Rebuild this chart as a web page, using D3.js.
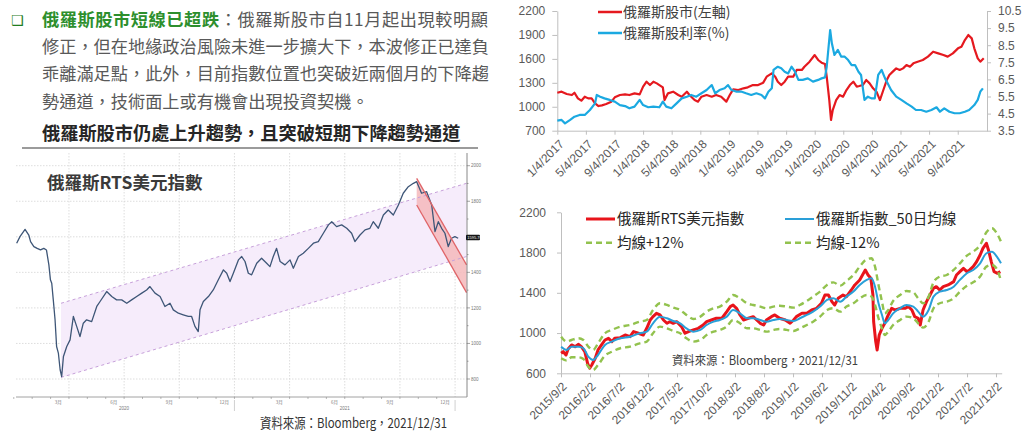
<!DOCTYPE html>
<html>
<head>
  <meta charset="utf-8">
  <script src="https://cdn.jsdelivr.net/npm/d3@7"></script>
  <style>
    body { margin: 0; background: #fff; }
    svg { display: block; }
  </style>
</head>
<body>
<svg id="chart" width="1024" height="439"></svg>
<script>
  "use strict";

  /* ---------- text ---------- */
  var introHead = "俄羅斯股市短線已超跌";
  var introLines = [
    "：俄羅斯股市自11月起出現較明顯",
    "修正，但在地緣政治風險未進一步擴大下，本波修正已達負",
    "乖離滿足點，此外，目前指數位置也突破近兩個月的下降趨",
    "勢通道，技術面上或有機會出現投資契機。"
  ];
  var subTitle = "俄羅斯股市仍處上升趨勢，且突破短期下降趨勢通道";
  var sourceText = "資料來源：Bloomberg，2021/12/31";

  /* ---------- left: Bloomberg RTS chart (x = decimal year) ---------- */
  var rtsYears = [2020.013, 2020.028, 2020.051, 2020.068, 2020.076, 2020.091, 2020.106, 2020.121, 2020.136, 2020.148,
    2020.159, 2020.166, 2020.172, 2020.179, 2020.187, 2020.194, 2020.202, 2020.210, 2020.217, 2020.225,
    2020.240, 2020.255, 2020.270, 2020.285, 2020.300, 2020.315, 2020.330, 2020.353, 2020.376, 2020.391,
    2020.421, 2020.444, 2020.466, 2020.489, 2020.512, 2020.534, 2020.557, 2020.580, 2020.602, 2020.617,
    2020.640, 2020.663, 2020.685, 2020.708, 2020.723, 2020.746, 2020.768, 2020.791, 2020.806, 2020.821,
    2020.836, 2020.844, 2020.859, 2020.882, 2020.904, 2020.927, 2020.950, 2020.965, 2020.980, 2020.995,
    2021.018, 2021.033, 2021.048, 2021.063, 2021.078, 2021.101, 2021.123, 2021.146, 2021.161, 2021.176,
    2021.191, 2021.207, 2021.229, 2021.252, 2021.267, 2021.290, 2021.312, 2021.335, 2021.358, 2021.380,
    2021.403, 2021.426, 2021.441, 2021.463, 2021.486, 2021.509, 2021.531, 2021.546, 2021.569, 2021.592,
    2021.614, 2021.629, 2021.652, 2021.675, 2021.697, 2021.720, 2021.743, 2021.765, 2021.788, 2021.811,
    2021.826, 2021.848, 2021.871, 2021.894, 2021.909, 2021.924, 2021.939, 2021.954, 2021.969, 2021.984,
    2021.999, 2022.014];
  var rtsValues = [1564, 1601, 1642, 1610, 1573, 1545, 1535, 1526, 1535, 1526,
    1442, 1358, 1339, 1245, 1133, 983, 946, 852, 814, 927,
    983, 1020, 1152, 1096, 1039, 1114, 1133, 1123, 1208, 1236,
    1292, 1264, 1245, 1245, 1226, 1245, 1264, 1283, 1301, 1320,
    1283, 1264, 1208, 1226, 1189, 1170, 1161, 1152, 1152, 1096,
    1067, 1189, 1236, 1264, 1301, 1358, 1414, 1395, 1348, 1395,
    1470, 1489, 1461, 1395, 1386, 1451, 1479, 1451, 1432, 1489,
    1535, 1461, 1442, 1470, 1423, 1489, 1507, 1535, 1564, 1573,
    1620, 1667, 1685, 1657, 1667, 1648, 1620, 1573, 1610, 1639,
    1648, 1685, 1648, 1723, 1751, 1723, 1779, 1845, 1882, 1901,
    1910, 1845, 1854, 1779, 1629, 1685, 1648, 1620, 1545, 1592,
    1601, 1592];
  var lastPrice = "1595.76";
  var lastPriceLevel = 1596;

  // rising channel and short falling channel
  var trendX = [2020.214, 2022.052];
  var trendUpper = [1226, 1901];
  var trendLower = [809, 1489];
  var downX = [2021.826, 2022.052];
  var downUpper = [1929, 1442];
  var downLower = [1779, 1286];

  var leftYTicks = [800, 1000, 1200, 1400, 1600, 1800, 2000];
  var leftQuarterLines = [2020.25, 2020.5, 2020.75, 2021.0, 2021.25, 2021.5, 2021.75, 2022.0];
  var leftMonthVals = [2020.202, 2020.453, 2020.705, 2020.954, 2021.203, 2021.453, 2021.705, 2021.954];
  var leftMonthLabels = ["3月", "6月", "9月", "12月", "3月", "6月", "9月", "12月"];
  var leftYearVals = [2020.5, 2021.5];
  var leftYearLabels = ["2020", "2021"];
  var leftYearBreaks = [2021.0, 2022.0];

  /* ---------- top right: index vs dividend yield ---------- */
  var idxYears = [2017.01, 2017.06, 2017.12, 2017.18, 2017.21, 2017.25, 2017.29, 2017.33, 2017.37, 2017.41,
    2017.45, 2017.49, 2017.53, 2017.58, 2017.64, 2017.68, 2017.74, 2017.80, 2017.85, 2017.91,
    2017.97, 2018.01, 2018.05, 2018.09, 2018.13, 2018.17, 2018.20, 2018.24, 2018.26, 2018.30,
    2018.36, 2018.42, 2018.46, 2018.52, 2018.55, 2018.61, 2018.65, 2018.69, 2018.75, 2018.81,
    2018.86, 2018.92, 2018.98, 2019.02, 2019.06, 2019.12, 2019.18, 2019.23, 2019.29, 2019.35,
    2019.41, 2019.45, 2019.51, 2019.55, 2019.58, 2019.62, 2019.66, 2019.70, 2019.76, 2019.80,
    2019.86, 2019.89, 2019.95, 2020.01, 2020.05, 2020.09, 2020.13, 2020.15, 2020.18, 2020.20,
    2020.22, 2020.26, 2020.30, 2020.34, 2020.38, 2020.42, 2020.46, 2020.50, 2020.53, 2020.57,
    2020.61, 2020.65, 2020.69, 2020.73, 2020.77, 2020.81, 2020.85, 2020.88, 2020.92, 2020.96,
    2021.00, 2021.04, 2021.08, 2021.12, 2021.16, 2021.21, 2021.27, 2021.33, 2021.39, 2021.45,
    2021.51, 2021.56, 2021.62, 2021.68, 2021.72, 2021.76, 2021.80, 2021.84, 2021.87, 2021.91,
    2021.94, 2021.98];
  var idxValues = [1176, 1189, 1160, 1147, 1176, 1105, 1076, 1126, 1105, 1105,
    1043, 1009, 1018, 1034, 1064, 1118, 1147, 1155, 1147, 1168,
    1155, 1252, 1314, 1272, 1314, 1293, 1272, 1243, 1084, 1168,
    1189, 1147, 1126, 1189, 1147, 1084, 1064, 1126, 1147, 1126,
    1147, 1126, 1064, 1147, 1218, 1210, 1231, 1243, 1272, 1272,
    1302, 1377, 1419, 1377, 1314, 1272, 1314, 1377, 1377, 1461,
    1461, 1502, 1565, 1648, 1586, 1552, 1536, 1377, 1084, 834,
    959, 1084, 1147, 1126, 1210, 1272, 1314, 1252, 1260, 1272,
    1335, 1293, 1231, 1189, 1084, 1210, 1335, 1398, 1440, 1481,
    1461, 1481, 1523, 1502, 1544, 1565, 1586, 1628, 1690, 1669,
    1648, 1628, 1669, 1732, 1753, 1836, 1899, 1857, 1732, 1607,
    1565, 1607];
  var yieldYears = [2017.01, 2017.06, 2017.10, 2017.16, 2017.21, 2017.27, 2017.33, 2017.39, 2017.45, 2017.47,
    2017.51, 2017.56, 2017.62, 2017.68, 2017.74, 2017.80, 2017.85, 2017.91, 2017.97, 2018.01,
    2018.07, 2018.13, 2018.20, 2018.24, 2018.28, 2018.34, 2018.40, 2018.46, 2018.52, 2018.57,
    2018.63, 2018.69, 2018.75, 2018.81, 2018.85, 2018.90, 2018.96, 2019.00, 2019.04, 2019.10,
    2019.16, 2019.21, 2019.27, 2019.33, 2019.39, 2019.43, 2019.47, 2019.51, 2019.53, 2019.58,
    2019.62, 2019.66, 2019.70, 2019.74, 2019.78, 2019.82, 2019.87, 2019.93, 2019.99, 2020.05,
    2020.09, 2020.13, 2020.15, 2020.19, 2020.21, 2020.24, 2020.28, 2020.32, 2020.36, 2020.40,
    2020.44, 2020.48, 2020.52, 2020.55, 2020.59, 2020.63, 2020.67, 2020.71, 2020.75, 2020.79,
    2020.83, 2020.86, 2020.90, 2020.96, 2021.02, 2021.08, 2021.14, 2021.19, 2021.25, 2021.31,
    2021.37, 2021.43, 2021.47, 2021.52, 2021.58, 2021.64, 2021.70, 2021.76, 2021.81, 2021.87,
    2021.91, 2021.94, 2021.97];
  var yieldValues = [4.09, 4.13, 3.93, 4.13, 4.32, 4.42, 4.42, 4.71, 5.10, 5.59,
    5.49, 5.39, 5.30, 5.20, 5.00, 4.94, 4.81, 4.91, 5.30, 5.00,
    4.87, 4.91, 4.87, 5.20, 4.91, 4.81, 5.10, 5.39, 5.49, 5.59,
    5.49, 5.69, 5.88, 6.17, 5.69, 5.88, 5.98, 6.17, 5.88, 5.78,
    5.78, 5.69, 5.59, 5.69, 5.59, 5.39, 5.78, 5.98, 7.05, 7.24,
    7.15, 6.95, 6.85, 7.24, 6.95, 6.47, 6.47, 6.56, 6.37, 6.47,
    6.56, 6.62, 7.24, 9.39, 8.61, 7.93, 8.22, 7.83, 7.83, 7.63,
    7.34, 7.34, 6.95, 6.76, 5.30, 5.49, 5.39, 5.39, 6.76, 7.05,
    6.56, 6.27, 5.88, 5.49, 5.30, 5.10, 4.91, 4.71, 4.71, 4.61,
    4.71, 4.87, 4.61, 4.81, 4.61, 4.52, 4.52, 4.61, 4.71, 5.00,
    5.30, 5.78, 5.98];
  var trTickVals = [2017.01, 2017.343, 2017.677, 2018.01, 2018.343, 2018.677, 2019.01, 2019.343,
    2019.677, 2020.01, 2020.343, 2020.677, 2021.01, 2021.343, 2021.677];
  var trTickLabels = ["1/4/2017", "5/4/2017", "9/4/2017", "1/4/2018", "5/4/2018", "9/4/2018", "1/4/2019",
    "5/4/2019", "9/4/2019", "1/4/2020", "5/4/2020", "9/4/2020", "1/4/2021", "5/4/2021", "9/4/2021"];
  var trLeftTicks = [700, 1000, 1300, 1600, 1900, 2200];
  var trRightTicks = [3.5, 4.5, 5.5, 6.5, 7.5, 8.5, 9.5, 10.5];
  var trLegend = ["俄羅斯股市(左軸)", "俄羅斯股利率(%)"];

  /* ---------- bottom right: RTS vs 50-day average band ---------- */
  var rtsUsdYears = [2015.67, 2015.70, 2015.74, 2015.77, 2015.82, 2015.87, 2015.92, 2015.96, 2016.01, 2016.05,
    2016.08, 2016.11, 2016.16, 2016.20, 2016.25, 2016.30, 2016.35, 2016.40, 2016.44, 2016.52,
    2016.59, 2016.66, 2016.71, 2016.78, 2016.85, 2016.90, 2016.95, 2016.99, 2017.04, 2017.09,
    2017.14, 2017.19, 2017.23, 2017.28, 2017.33, 2017.40, 2017.45, 2017.50, 2017.57, 2017.64,
    2017.71, 2017.76, 2017.83, 2017.90, 2017.98, 2018.05, 2018.10, 2018.14, 2018.19, 2018.24,
    2018.29, 2018.36, 2018.43, 2018.48, 2018.53, 2018.58, 2018.62, 2018.69, 2018.74, 2018.81,
    2018.89, 2018.96, 2019.01, 2019.05, 2019.13, 2019.20, 2019.27, 2019.34, 2019.41, 2019.46,
    2019.51, 2019.56, 2019.60, 2019.65, 2019.72, 2019.77, 2019.84, 2019.89, 2019.96, 2020.04,
    2020.08, 2020.12, 2020.15, 2020.16, 2020.19, 2020.21, 2020.24, 2020.28, 2020.32, 2020.37,
    2020.42, 2020.47, 2020.54, 2020.61, 2020.66, 2020.71, 2020.75, 2020.80, 2020.83, 2020.87,
    2020.92, 2020.97, 2021.02, 2021.06, 2021.11, 2021.16, 2021.23, 2021.31, 2021.35, 2021.40,
    2021.45, 2021.50, 2021.54, 2021.59, 2021.64, 2021.69, 2021.73, 2021.78, 2021.81, 2021.85,
    2021.89, 2021.94, 2021.98];
  var rtsUsdValues = [799, 815, 782, 842, 882, 865, 888, 865, 815, 699,
    650, 683, 749, 832, 882, 931, 948, 915, 948, 954,
    981, 964, 1014, 998, 981, 1047, 1130, 1163, 1196, 1180,
    1130, 1097, 1113, 1097, 1113, 1064, 998, 1014, 1031, 1047,
    1080, 1113, 1130, 1147, 1147, 1213, 1263, 1279, 1246, 1180,
    1130, 1147, 1163, 1130, 1097, 1080, 1130, 1163, 1180, 1147,
    1130, 1097, 1130, 1163, 1196, 1196, 1229, 1246, 1296, 1378,
    1378, 1312, 1279, 1345, 1378, 1362, 1428, 1478, 1528, 1627,
    1577, 1544, 1378, 1113, 915, 832, 981, 1047, 1097, 1180,
    1246, 1229, 1246, 1246, 1263, 1229, 1163, 1147, 1080, 1229,
    1312, 1378, 1445, 1461, 1428, 1461, 1478, 1511, 1577, 1610,
    1643, 1610, 1627, 1660, 1710, 1776, 1842, 1892, 1826, 1710,
    1610, 1594, 1610];
  var maYears = [2015.67, 2015.75, 2015.82, 2015.92, 2015.99, 2016.06, 2016.13, 2016.20, 2016.30, 2016.40,
    2016.52, 2016.66, 2016.80, 2016.90, 2016.99, 2017.09, 2017.19, 2017.28, 2017.38, 2017.47,
    2017.57, 2017.67, 2017.76, 2017.86, 2017.95, 2018.05, 2018.14, 2018.24, 2018.34, 2018.43,
    2018.53, 2018.62, 2018.72, 2018.81, 2018.91, 2019.01, 2019.10, 2019.20, 2019.29, 2019.39,
    2019.49, 2019.58, 2019.68, 2019.77, 2019.87, 2019.96, 2020.06, 2020.13, 2020.18, 2020.23,
    2020.28, 2020.32, 2020.37, 2020.44, 2020.54, 2020.63, 2020.73, 2020.80, 2020.87, 2020.95,
    2021.02, 2021.11, 2021.21, 2021.31, 2021.40, 2021.50, 2021.59, 2021.69, 2021.78, 2021.86,
    2021.93, 2021.99];
  var maValues = [865, 832, 865, 865, 849, 766, 733, 782, 882, 915,
    948, 964, 998, 1014, 1097, 1163, 1147, 1120, 1097, 1047,
    1014, 1031, 1080, 1113, 1130, 1163, 1229, 1196, 1147, 1147,
    1130, 1113, 1130, 1140, 1130, 1120, 1147, 1180, 1213, 1263,
    1329, 1345, 1312, 1362, 1412, 1478, 1528, 1544, 1461, 1296,
    1180, 1097, 1130, 1196, 1246, 1279, 1263, 1213, 1163, 1229,
    1362, 1412, 1428, 1461, 1528, 1594, 1627, 1693, 1793, 1809,
    1759, 1693];
  var bandUpper = [964, 915, 931, 948, 931, 865, 832, 898, 998, 1031,
    1064, 1080, 1113, 1130, 1229, 1296, 1279, 1253, 1229, 1180,
    1140, 1163, 1213, 1246, 1263, 1312, 1378, 1345, 1296, 1279,
    1263, 1246, 1263, 1272, 1263, 1253, 1279, 1319, 1362, 1412,
    1478, 1504, 1471, 1518, 1577, 1660, 1733, 1743, 1660, 1478,
    1312, 1196, 1229, 1319, 1378, 1418, 1405, 1345, 1296, 1362,
    1504, 1561, 1577, 1627, 1693, 1769, 1809, 1875, 2001, 2041,
    1991, 1908];
  var bandLower = [749, 726, 759, 759, 742, 666, 633, 683, 776, 815,
    849, 865, 898, 915, 998, 1064, 1047, 1021, 998, 948,
    915, 931, 981, 1014, 1031, 1064, 1130, 1097, 1047, 1047,
    1031, 1014, 1031, 1041, 1031, 1021, 1047, 1080, 1113, 1163,
    1229, 1246, 1213, 1263, 1296, 1345, 1378, 1362, 1279, 1147,
    1047, 981, 1014, 1080, 1130, 1163, 1147, 1097, 1054, 1113,
    1246, 1296, 1312, 1345, 1412, 1471, 1504, 1561, 1660, 1677,
    1637, 1518];
  var brTickVals = [2015.668, 2016.085, 2016.502, 2016.918, 2017.335, 2017.752, 2018.168, 2018.585,
    2019.002, 2019.418, 2019.835, 2020.252, 2020.668, 2021.085, 2021.502, 2021.918];
  var brTickLabels = ["2015/9/2", "2016/2/2", "2016/7/2", "2016/12/2", "2017/5/2", "2017/10/2", "2018/3/2",
    "2018/8/2", "2019/1/2", "2019/6/2", "2019/11/2", "2020/4/2", "2020/9/2", "2021/2/2", "2021/7/2", "2021/12/2"];
  var brYTicks = [600, 1000, 1400, 1800, 2200];
  var brLegend = ["俄羅斯RTS美元指數", "俄羅斯指數_50日均線", "均線+12%", "均線-12%"];

  /* ---------- setup ---------- */
  var cjk = "'Noto Sans CJK TC', 'Noto Sans CJK SC', sans-serif";
  var num = "'Liberation Sans', Arial, sans-serif";
  var svg = d3.select("#chart");

  function pairs(xs, ys) {
    return xs.map(function(x, i) { return { x: x, y: ys[i] }; });
  }

  /*
    intro text block
  */
  svg.append("text").attr("x", 11).attr("y", 25).text("❑")
    .style("font-family", "'DejaVu Sans', sans-serif").style("font-size", "14px")
    .attr("fill", "#1f7d1f");

  var line1 = svg.append("text").attr("x", 42).attr("y", 25.5)
    .attr("textLength", 446).attr("lengthAdjust", "spacing")
    .style("font-family", cjk).style("font-size", "17.2px");
  line1.append("tspan").attr("fill", "#2d8f2d").attr("font-weight", "bold").text(introHead);
  line1.append("tspan").attr("fill", "#595959").text(introLines[0]);

  svg.selectAll(".intro")
    .data(introLines.slice(1))
    .enter()
    .append("text")
    .attr("class", "intro")
    .attr("x", 42)
    .attr("y", function(d, i) { return 53 + i * 27.3; })
    .attr("fill", "#595959")
    .style("font-family", cjk).style("font-size", "17.2px")
    .text(function(d) { return d; });

  svg.append("text").attr("x", 42).attr("y", 140)
    .attr("fill", "#262626").attr("font-weight", "bold")
    .style("font-family", cjk).style("font-size", "18.2px")
    .text(subTitle);
  svg.append("line").attr("x1", 22).attr("x2", 478).attr("y1", 148).attr("y2", 148)
    .attr("stroke", "#9b9b9b").attr("stroke-width", 2);

  /*
    left chart (Bloomberg style)
  */
  var lx = d3.scaleLinear().domain([2020.010, 2022.054]).range([16, 467]);
  var ly = d3.scaleLinear().domain([800, 2000]).range([379, 165.7]);
  var left = svg.append("g");

  left.selectAll(".hgrid").data(leftYTicks).enter().append("line")
    .attr("x1", 16).attr("x2", 467)
    .attr("y1", function(d) { return ly(d); }).attr("y2", function(d) { return ly(d); })
    .attr("stroke", "#d4d4d4").attr("stroke-width", 0.8).attr("stroke-dasharray", "1.5,1.5");
  left.selectAll(".vgrid").data(leftQuarterLines).enter().append("line")
    .attr("x1", function(d) { return lx(d); }).attr("x2", function(d) { return lx(d); })
    .attr("y1", 153).attr("y2", 397)
    .attr("stroke", "#d4d4d4").attr("stroke-width", 0.8).attr("stroke-dasharray", "1.5,1.5");

  left.append("text").attr("x", 47).attr("y", 188.5)
    .attr("fill", "#3a3a3a").attr("font-weight", "bold")
    .style("font-family", cjk).style("font-size", "17.5px")
    .text("俄羅斯RTS美元指數");

  var band = function(xs, hi, lo) {
    return xs.map(function(x, i) { return { x: x, hi: hi[i], lo: lo[i] }; });
  };
  var chanArea = d3.area()
    .x(function(d) { return lx(d.x); })
    .y0(function(d) { return ly(d.lo); })
    .y1(function(d) { return ly(d.hi); });
  var lLine = d3.line().x(function(d) { return lx(d.x); }).y(function(d) { return ly(d.y); });

  left.append("path").datum(band(trendX, trendUpper, trendLower))
    .attr("d", chanArea).attr("fill", "#f6ecfb");
  left.append("path").datum(band(downX, downUpper, downLower))
    .attr("d", chanArea).attr("fill", "#f5b9bb").attr("opacity", 0.85);
  [trendUpper, trendLower].forEach(function(vals) {
    left.append("path").datum(pairs(trendX, vals)).attr("d", lLine)
      .attr("fill", "none").attr("stroke", "#c7a1da").attr("stroke-width", 1)
      .attr("stroke-dasharray", "3,3");
  });

  left.append("path").datum(pairs(rtsYears, rtsValues)).attr("d", lLine)
    .attr("fill", "none").attr("stroke", "#3e5677").attr("stroke-width", 1.3)
    .attr("stroke-linejoin", "round");

  [downUpper, downLower].forEach(function(vals) {
    left.append("path").datum(pairs(downX, vals)).attr("d", lLine)
      .attr("fill", "none").attr("stroke", "#e06468").attr("stroke-width", 1.3);
  });

  // right value axis
  left.append("line").attr("x1", 467).attr("x2", 467).attr("y1", 153).attr("y2", 397)
    .attr("stroke", "#6a6a6a").attr("stroke-width", 0.8);
  left.selectAll(".ltick").data(d3.range(800, 2001, 100)).enter().append("line")
    .attr("x1", 467).attr("x2", function(d) { return d % 200 === 0 ? 470 : 468.5; })
    .attr("y1", function(d) { return ly(d); }).attr("y2", function(d) { return ly(d); })
    .attr("stroke", "#6a6a6a").attr("stroke-width", 0.6);
  // the last-price tag covers the nearest axis label, as in the original
  left.selectAll(".llabel")
    .data(leftYTicks.filter(function(d) { return Math.abs(d - lastPriceLevel) > 50; }))
    .enter().append("text")
    .attr("x", 471).attr("y", function(d) { return ly(d) + 1.6; })
    .attr("fill", "#777").style("font-family", num).style("font-size", "4.5px")
    .text(function(d) { return d; });
  left.append("rect").attr("x", 466).attr("y", ly(lastPriceLevel) - 2.8).attr("width", 14).attr("height", 5.6)
    .attr("rx", 1).attr("fill", "#151515");
  left.append("text").attr("x", 467.3).attr("y", ly(lastPriceLevel) + 1.5)
    .attr("fill", "#fff").style("font-family", num).style("font-size", "4px").text(lastPrice);

  // bottom time axis
  left.append("line").attr("x1", 16).attr("x2", 467).attr("y1", 397).attr("y2", 397)
    .attr("stroke", "#8a8a8a").attr("stroke-width", 0.8);
  left.selectAll(".mtick").data(d3.range(24).map(function(i) { return 2020 + i / 12; })).enter().append("line")
    .attr("x1", function(d) { return lx(d); }).attr("x2", function(d) { return lx(d); })
    .attr("y1", 397).attr("y2", 399)
    .attr("stroke", "#8a8a8a").attr("stroke-width", 0.6);
  left.selectAll(".mlabel").data(leftMonthVals).enter().append("text")
    .attr("x", function(d) { return lx(d); }).attr("y", 403.5)
    .attr("text-anchor", "middle").attr("fill", "#777")
    .style("font-family", cjk).style("font-size", "4.5px")
    .text(function(d, i) { return leftMonthLabels[i]; });
  left.selectAll(".ylabel").data(leftYearVals).enter().append("text")
    .attr("x", function(d) { return lx(d); }).attr("y", 409.5)
    .attr("text-anchor", "middle").attr("fill", "#777")
    .style("font-family", num).style("font-size", "4.5px")
    .text(function(d, i) { return leftYearLabels[i]; });
  left.selectAll(".ybreak").data(leftYearBreaks).enter().append("line")
    .attr("x1", function(d) { return lx(d); }).attr("x2", function(d) { return lx(d); })
    .attr("y1", 400).attr("y2", 411)
    .attr("stroke", "#bbb").attr("stroke-width", 0.7);

  svg.append("text").attr("x", 260).attr("y", 428)
    .attr("textLength", 187).attr("lengthAdjust", "spacingAndGlyphs")
    .attr("fill", "#333").style("font-family", cjk).style("font-size", "13.5px")
    .text(sourceText);

  /*
    Excel style axis helper
  */
  function excelAxis(g) {
    g.select(".domain").attr("stroke", "#bfbfbf");
    g.selectAll(".tick line").attr("stroke", "#bfbfbf");
    g.selectAll(".tick text").attr("fill", "#595959")
      .style("font-family", num).style("font-size", "12px");
  }
  function rotateLabels(g, dx, dy) {
    g.selectAll(".tick text")
      .attr("x", 0).attr("y", 0).attr("dy", "0.35em")
      .attr("transform", "translate(" + dx + "," + dy + ") rotate(-45)")
      .style("text-anchor", "end");
  }

  /*
    top right chart
  */
  var tx = d3.scaleLinear().domain([2017.01, 2022.018]).range([557.3, 987]);
  var tyL = d3.scaleLinear().domain([700, 2200]).range([130.7, 11]);
  var tyR = d3.scaleLinear().domain([3.5, 10.5]).range([130.7, 11]);
  var tr = svg.append("g");

  tr.append("g").attr("transform", "translate(0,130.7)")
    .call(d3.axisBottom(tx).tickValues(trTickVals)
      .tickFormat(function(d, i) { return trTickLabels[i]; })
      .tickSize(4).tickSizeOuter(0))
    .call(excelAxis).call(rotateLabels, 4, 11);
  tr.append("g").attr("transform", "translate(557.3,0)")
    .call(d3.axisLeft(tyL).tickValues(trLeftTicks).tickFormat(d3.format("d"))
      .tickSize(5).tickPadding(7).tickSizeOuter(0))
    .call(excelAxis);
  tr.append("g").attr("transform", "translate(987,0)")
    .call(d3.axisRight(tyR).tickValues(trRightTicks).tickFormat(d3.format(".1f"))
      .tickSize(4).tickPadding(7).tickSizeOuter(0))
    .call(excelAxis);

  tr.append("path").datum(pairs(idxYears, idxValues))
    .attr("d", d3.line().x(function(d) { return tx(d.x); }).y(function(d) { return tyL(d.y); }))
    .attr("fill", "none").attr("stroke", "#e5191f").attr("stroke-width", 2.2)
    .attr("stroke-linejoin", "round");
  tr.append("path").datum(pairs(yieldYears, yieldValues))
    .attr("d", d3.line().x(function(d) { return tx(d.x); }).y(function(d) { return tyR(d.y); }))
    .attr("fill", "none").attr("stroke", "#1ba9e1").attr("stroke-width", 2.2)
    .attr("stroke-linejoin", "round");

  var trColors = ["#e5191f", "#1ba9e1"];
  trLegend.forEach(function(name, i) {
    var y = 12 + i * 21;
    tr.append("line").attr("x1", 598).attr("x2", 622).attr("y1", y).attr("y2", y)
      .attr("stroke", trColors[i]).attr("stroke-width", 2.5);
    tr.append("text").attr("x", 623).attr("y", y + 5)
      .attr("fill", "#404040").style("font-family", cjk).style("font-size", "14px")
      .text(name);
  });

  /*
    bottom right chart
  */
  var bx = d3.scaleLinear().domain([2015.668, 2022.0]).range([561, 1001.7]);
  var by = d3.scaleLinear().domain([600, 2200]).range([373.3, 212.3]);
  var br = svg.append("g");

  br.append("g").attr("transform", "translate(0,373.3)")
    .call(d3.axisBottom(bx).tickValues(brTickVals)
      .tickFormat(function(d, i) { return brTickLabels[i]; })
      .tickSize(4).tickSizeOuter(0))
    .call(excelAxis).call(rotateLabels, 3, 11);
  br.append("g").attr("transform", "translate(561,0)")
    .call(d3.axisLeft(by).tickValues(brYTicks).tickFormat(d3.format("d"))
      .tickSize(4).tickPadding(11).tickSizeOuter(0))
    .call(excelAxis);

  var bLine = d3.line().x(function(d) { return bx(d.x); }).y(function(d) { return by(d.y); });
  br.append("path").datum(pairs(rtsUsdYears, rtsUsdValues)).attr("d", bLine)
    .attr("fill", "none").attr("stroke", "#e8141b").attr("stroke-width", 3)
    .attr("stroke-linejoin", "round");
  br.append("path").datum(pairs(maYears, maValues)).attr("d", d3.line().curve(d3.curveMonotoneX)
      .x(function(d) { return bx(d.x); }).y(function(d) { return by(d.y); }))
    .attr("fill", "none").attr("stroke", "#2a9fd8").attr("stroke-width", 2);
  [bandUpper, bandLower].forEach(function(vals) {
    br.append("path").datum(pairs(maYears, vals)).attr("d", d3.line().curve(d3.curveMonotoneX)
        .x(function(d) { return bx(d.x); }).y(function(d) { return by(d.y); }))
      .attr("fill", "none").attr("stroke", "#92c24e").attr("stroke-width", 2.4)
      .attr("stroke-dasharray", "6,4");
  });

  var brStyles = [
    { color: "#e8141b", width: 3, dash: null },
    { color: "#2a9fd8", width: 2, dash: null },
    { color: "#92c24e", width: 2.4, dash: "6,4" },
    { color: "#92c24e", width: 2.4, dash: "6,4" }
  ];
  brLegend.forEach(function(name, i) {
    var x0 = i % 2 === 0 ? 586 : 785;
    var y = i < 2 ? 219 : 242.7;
    br.append("line").attr("x1", x0).attr("x2", x0 + 29).attr("y1", y).attr("y2", y)
      .attr("stroke", brStyles[i].color).attr("stroke-width", brStyles[i].width)
      .attr("stroke-dasharray", brStyles[i].dash);
    br.append("text").attr("x", x0 + 31).attr("y", y + 5.2)
      .attr("fill", "#262626").style("font-family", cjk).style("font-size", "14.5px")
      .text(name);
  });

  br.append("text").attr("x", 672).attr("y", 364.5)
    .attr("textLength", 186).attr("lengthAdjust", "spacingAndGlyphs")
    .attr("fill", "#404040").style("font-family", cjk).style("font-size", "12.5px")
    .text(sourceText);
</script>
</body>
</html>
